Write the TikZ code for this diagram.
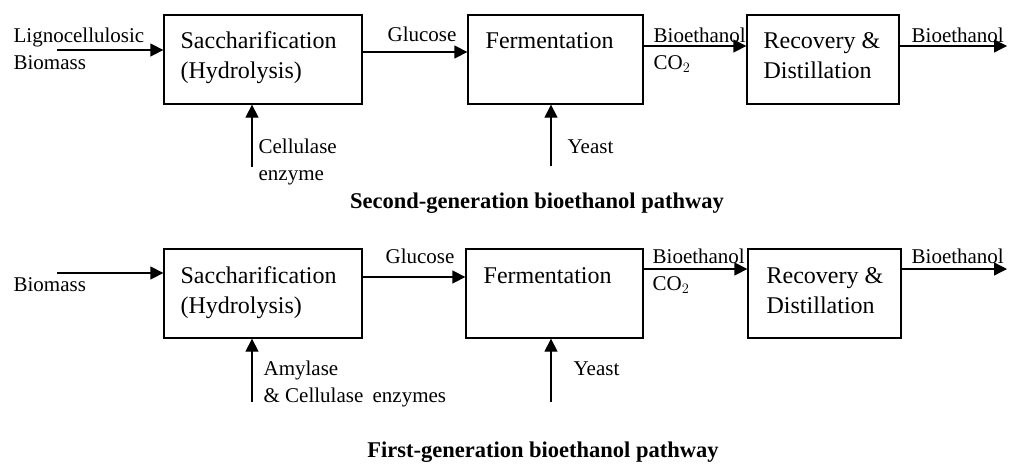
\documentclass[tikz,border=0pt]{standalone}
\usepackage{fontspec}
\setmainfont{Liberation Serif}
\usetikzlibrary{arrows.meta}

\newcommand{\lines}[1]{\begin{tabular}[t]{@{}l@{}}#1\end{tabular}}

\begin{document}
\begin{tikzpicture}[x=1pt, y=-1pt, line width=1.3pt,
    box/.style={draw, rectangle, inner sep=0pt, minimum height=89pt},
    flow/.style={-{Triangle[length=13pt,width=13pt]}},
    boxtext/.style={anchor=base west, inner sep=0pt, font=\fontsize{24}{30}\selectfont},
    lbl/.style={anchor=base west, inner sep=0pt, font=\fontsize{21}{27.5}\selectfont},
    caption/.style={anchor=base, inner sep=0pt, font=\fontsize{22.5}{27}\selectfont\bfseries}]
  \useasboundingbox (0,0) rectangle (1011,464);

  % second generation
  \node[box, minimum width=198pt] (sac1) at (263,59.5) {};
  \node[box, minimum width=175pt] (fer1) at (555.5,59.5) {};
  \node[box, minimum width=152pt] (rec1) at (823,59.5) {};
  \node[boxtext] (sac1t) at (180,48) {\lines{Saccharification\\(Hydrolysis)}};
  \node[boxtext] (fer1t) at (485,48) {Fermentation};
  \node[boxtext] (rec1t) at (763,48) {\lines{Recovery \&\\Distillation}};

  \coordinate (in1) at (57,50);
  \coordinate (out1) at (1007,46);
  \coordinate (cel1) at (252,167);
  \coordinate (yst1) at (551,166);
  \draw[flow] (in1) -- (in1 -| sac1.west);
  \draw[flow] ([yshift=7.5pt]sac1.east) -- ([yshift=7.5pt]fer1.west);
  \draw[flow] ([yshift=13.5pt]fer1.east) -- ([yshift=13.5pt]rec1.west);
  \draw[flow] (out1 -| rec1.east) -- (out1);
  \draw[flow] (cel1) -- (cel1 |- sac1.south);
  \draw[flow] (yst1) -- (yst1 |- fer1.south);

  \node[lbl] (feed1) at (13,42) {\lines{Lignocellulosic\\Biomass}};
  \node[lbl] (glu1) at (387,41) {Glucose};
  \node[lbl] (eth1) at (653,42) {\lines{Bioethanol\\CO$_2$}};
  \node[lbl] (prod1) at (911,42) {Bioethanol};
  \node[lbl] (enz1) at (258,153) {\lines{Cellulase\\enzyme}};
  \node[lbl] (yeast1) at (567,153) {Yeast};
  \node[caption] (cap1) at (537,208) {Second-generation bioethanol pathway};

  % first generation
  \node[box, minimum width=198pt] (sac2) at (263,293.5) {};
  \node[box, minimum width=177pt] (fer2) at (554.5,293.5) {};
  \node[box, minimum width=153pt] (rec2) at (824.5,293.5) {};
  \node[boxtext] (sac2t) at (180,283) {\lines{Saccharification\\(Hydrolysis)}};
  \node[boxtext] (fer2t) at (483,283) {Fermentation};
  \node[boxtext] (rec2t) at (766,283) {\lines{Recovery \&\\Distillation}};

  \coordinate (in2) at (57,273);
  \coordinate (out2) at (1007,269);
  \coordinate (amy2) at (252,402);
  \coordinate (yst2) at (551,402);
  \draw[flow] (in2) -- (in2 -| sac2.west);
  \draw[flow] ([yshift=16.5pt]sac2.east) -- ([yshift=16.5pt]fer2.west);
  \draw[flow] ([yshift=24.5pt]fer2.east) -- ([yshift=24.5pt]rec2.west);
  \draw[flow] (out2 -| rec2.east) -- (out2);
  \draw[flow] (amy2) -- (amy2 |- sac2.south);
  \draw[flow] (yst2) -- (yst2 |- fer2.south);

  \node[lbl] (feed2) at (13,291) {Biomass};
  \node[lbl] (glu2) at (385,263) {Glucose};
  \node[lbl] (eth2) at (652,263) {\lines{Bioethanol\\CO$_2$}};
  \node[lbl] (prod2) at (911,263) {Bioethanol};
  \node[lbl] (enz2) at (263,375) {\lines{Amylase\\\& Cellulase\hspace{4pt} enzymes}};
  \node[lbl] (yeast2) at (573,375) {Yeast};
  \node[caption] (cap2) at (543,457) {First-generation bioethanol pathway};
\end{tikzpicture}
\end{document}
